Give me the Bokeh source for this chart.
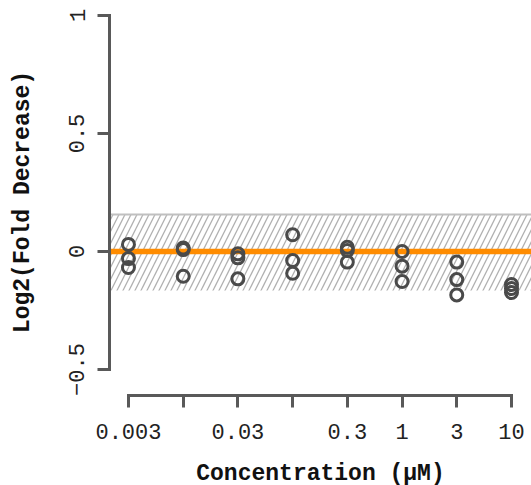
from bokeh.plotting import figure
from bokeh.models import Range1d, FixedTicker, BoxAnnotation, Span, ColumnDataSource
from bokeh.embed import file_html
from bokeh.resources import INLINE

# Concentrations (µM), half-log dilution series
conc = [0.00316, 0.01, 0.0316, 0.1, 0.316, 1.0, 3.16, 10.0]
x_tick_labels = ["0.003", "", "0.03", "", "0.3", "1", "3", "10"]

# Log2(fold decrease), three replicates per concentration
rep_a = [0.030, 0.015, -0.010, 0.071, 0.018, 0.000, -0.045, -0.140]
rep_b = [-0.030, 0.008, -0.027, -0.038, 0.004, -0.062, -0.119, -0.157]
rep_c = [-0.068, -0.105, -0.116, -0.092, -0.045, -0.127, -0.184, -0.174]

y_ticks = [-0.5, 0, 0.5, 1]
y_tick_labels = ["\u22120.5", "0", "0.5", "1"]

# noise band (hatched) and reference level
band_lo = -0.165
band_hi = 0.157
ref_level = 0.0

xs = conc * 3
ys = rep_a + rep_b + rep_c
src = ColumnDataSource(dict(x=xs, y=ys))

AX = "#595959"
FONT = "Liberation Mono"

p = figure(width=531, height=485, frame_width=422, frame_height=387,
           output_backend="svg", toolbar_location=None,
           x_axis_type="log",
           x_range=Range1d(10 ** -2.6736, 10 ** 1.1828),
           y_range=Range1d(-0.6102, 1.0297),
           min_border_left=109, min_border_right=0, min_border_top=8,
           min_border_bottom=90)

p.xgrid.visible = False
p.ygrid.visible = False
p.outline_line_color = None
p.background_fill_color = "white"
p.border_fill_color = "white"

band = BoxAnnotation(bottom=band_lo, top=band_hi, fill_color=None, fill_alpha=0,
                     line_alpha=0, hatch_pattern="/", hatch_scale=12,
                     hatch_color="#b0b0b0", hatch_weight=1.3, level="underlay")
p.add_layout(band)
p.add_layout(Span(location=band_hi, dimension="width", line_color="#c0c0c0",
                  line_width=2, level="underlay"))
p.add_layout(Span(location=ref_level, dimension="width", line_color="#FF8C00",
                  line_width=5.5, level="underlay"))

p.scatter("x", "y", source=src, marker="circle", size=12, fill_color=None,
          line_color="#4a4a4a", line_width=3)

for ax in (p.xaxis[0], p.yaxis[0]):
    ax.axis_line_width = 3
    ax.axis_line_color = AX
    ax.axis_line_cap = "square"
    ax.major_tick_line_width = 3
    ax.major_tick_line_color = AX
    ax.major_tick_out = 12
    ax.major_tick_in = 0
    ax.minor_tick_out = 0
    ax.minor_tick_in = 0
    ax.major_label_text_font = FONT
    ax.major_label_text_font_size = "22px"
    ax.major_label_text_color = "#222222"
    ax.axis_label_text_font = FONT
    ax.axis_label_text_font_size = "23px"
    ax.axis_label_text_font_style = "bold"
    ax.axis_label_text_color = "#111111"

p.xaxis.ticker = FixedTicker(ticks=conc)
p.xaxis.major_label_overrides = {c: l for c, l in zip(conc, x_tick_labels)}
p.xaxis.bounds = (conc[0], conc[-1])
p.xaxis.axis_label = "Concentration (\u03bcM)"
p.xaxis.major_label_standoff = 16
p.xaxis.axis_label_standoff = 19

p.yaxis.ticker = FixedTicker(ticks=y_ticks)
p.yaxis.major_label_overrides = {t: l for t, l in zip(y_ticks, y_tick_labels)}
p.yaxis.bounds = (y_ticks[0], y_ticks[-1])
p.yaxis.axis_label = "Log2(Fold Decrease)"
p.yaxis.major_label_orientation = "vertical"
p.yaxis.major_label_standoff = 13
p.yaxis.axis_label_standoff = 31

open("out.html", "w").write(file_html(p, INLINE))
